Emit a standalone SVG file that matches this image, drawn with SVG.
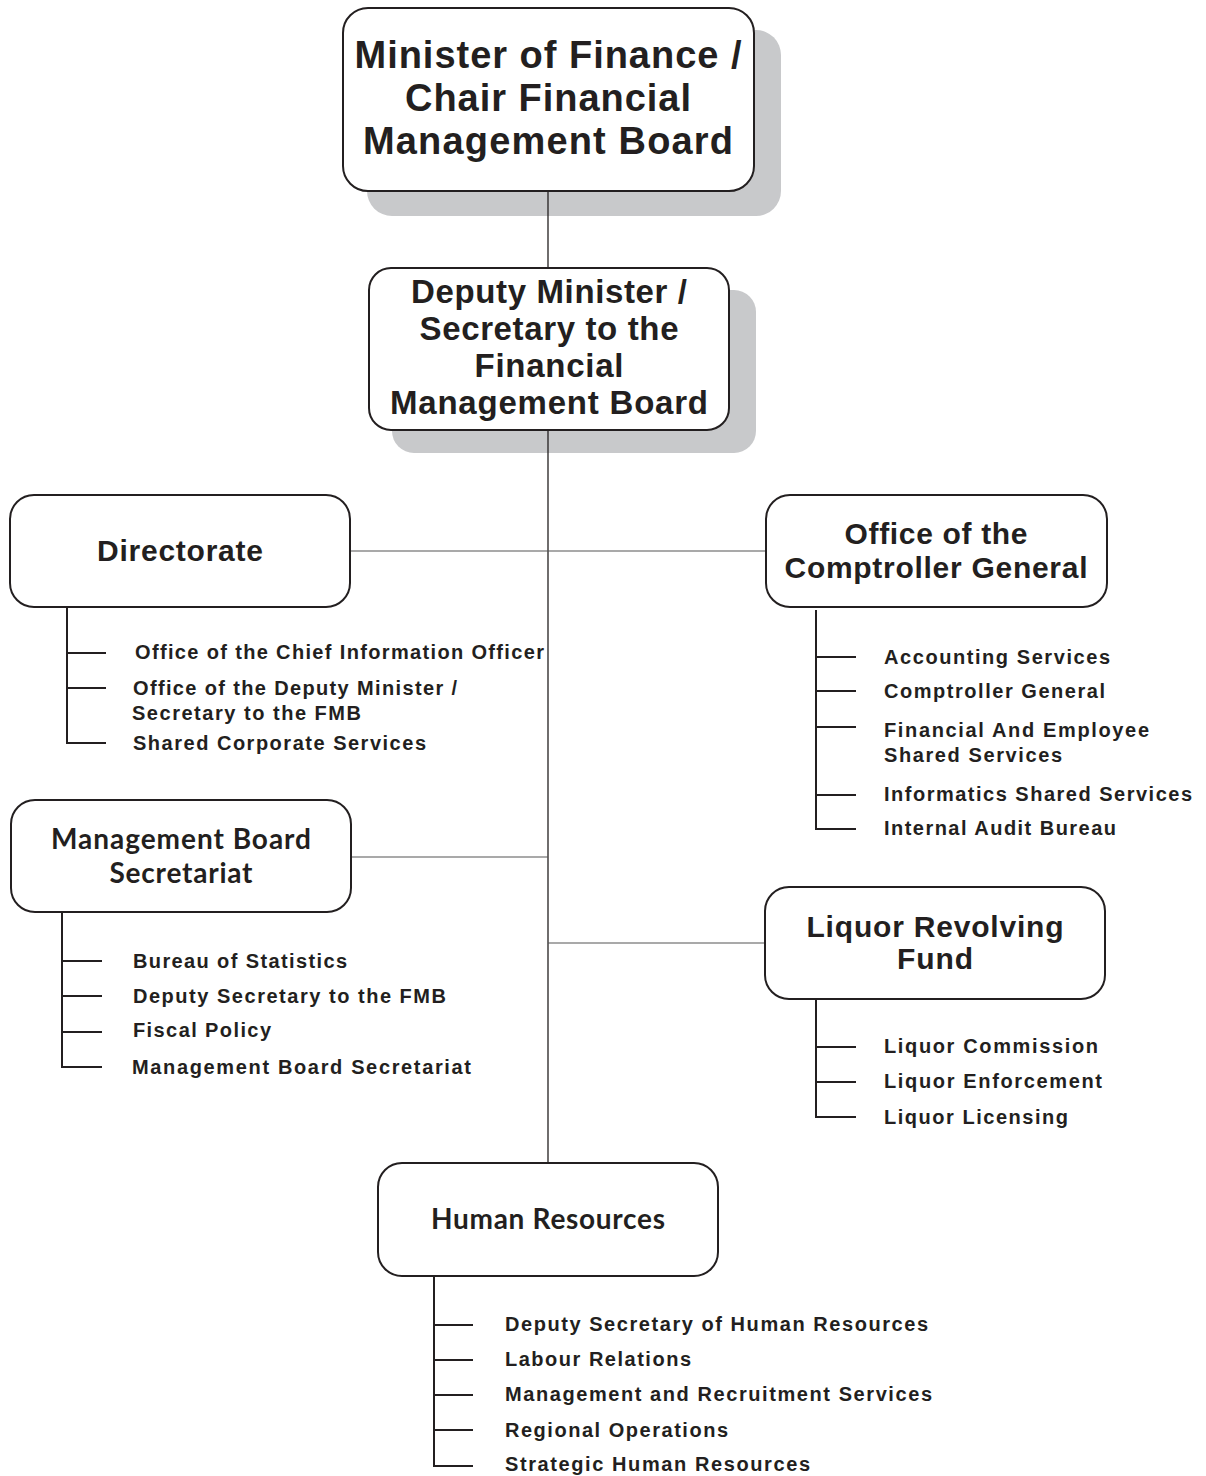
<svg xmlns="http://www.w3.org/2000/svg" width="1206" height="1476" viewBox="0 0 1206 1476">
<style>
.bg{fill:#ffffff}
.box{fill:#ffffff;stroke:#231f20;stroke-width:2}
.shadow{fill:#c8c9cb}
.conn{stroke:#231f20;stroke-width:1.3;fill:none}
.hconn{stroke:#555555;stroke-width:1.2;fill:none}
.tick{stroke:#231f20;stroke-width:2;fill:none}
.t1{font-family:"Liberation Sans",Arial,sans-serif;font-weight:bold;fill:#231f20;text-anchor:middle}
.cal{font-family:Lato,"Open Sans",sans-serif;font-weight:bold;fill:#231f20;text-anchor:middle}
.sub{font-family:"Liberation Sans",Arial,sans-serif;font-weight:bold;font-size:20px;fill:#231f20}
</style>
<rect class="bg" x="0" y="0" width="1206" height="1476"/>
<g id="minister">
<rect class="shadow" x="367" y="30" width="414" height="186" rx="25"/>
<rect class="box" x="343" y="8" width="411" height="183" rx="25"/>
<text class="t1" font-size="38" x="548" y="68" textLength="387">Minister of Finance /</text>
<text class="t1" font-size="38" x="548" y="111" textLength="286">Chair Financial</text>
<text class="t1" font-size="38" x="548" y="154" textLength="370">Management Board</text>
</g>
<g id="deputy">
<rect class="shadow" x="392" y="290" width="364" height="163" rx="22"/>
<rect class="box" x="369" y="268" width="360" height="162" rx="22"/>
<text class="t1" font-size="33" x="549" y="303" textLength="276">Deputy Minister /</text>
<text class="t1" font-size="33" x="549" y="340" textLength="259">Secretary to the</text>
<text class="t1" font-size="33" x="549" y="377" textLength="149">Financial</text>
<text class="t1" font-size="33" x="549" y="414" textLength="318">Management Board</text>
</g>
<g id="directorate">
<rect class="box" x="10" y="495" width="340" height="112" rx="24"/>
<text class="t1" font-size="30" x="180" y="561" textLength="166">Directorate</text>
<path class="tick" d="M67 607V743H106M67 653H106M67 688H106"/>
<text class="sub" x="135" y="659" textLength="409">Office of the Chief Information Officer</text>
<text class="sub" x="133" y="695" textLength="324">Office of the Deputy Minister /</text>
<text class="sub" x="132" y="720" textLength="229">Secretary to the FMB</text>
<text class="sub" x="133" y="750" textLength="293">Shared Corporate Services</text>
</g>
<g id="comptroller">
<rect class="box" x="766" y="495" width="341" height="112" rx="24"/>
<text class="t1" font-size="30" x="936" y="544" textLength="183">Office of the</text>
<text class="t1" font-size="30" x="936" y="578" textLength="303">Comptroller General</text>
<path class="tick" d="M816 610V829H856M816 657H856M816 691H856M816 727H856M816 795H856"/>
<text class="sub" x="884" y="664" textLength="226">Accounting Services</text>
<text class="sub" x="884" y="698" textLength="221">Comptroller General</text>
<text class="sub" x="884" y="737" textLength="265">Financial And Employee</text>
<text class="sub" x="884" y="762" textLength="178">Shared Services</text>
<text class="sub" x="884" y="801" textLength="308">Informatics Shared Services</text>
<text class="sub" x="884" y="835" textLength="232">Internal Audit Bureau</text>
</g>
<g id="mbs">
<rect class="box" x="11" y="800" width="340" height="112" rx="24"/>
<text class="cal" font-size="28" x="181" y="849" textLength="260">Management Board</text>
<text class="cal" font-size="28" x="181" y="883" textLength="143">Secretariat</text>
<path class="tick" d="M62 912V1067H102M62 961H102M62 996H102M62 1032H102"/>
<text class="sub" x="133" y="968" textLength="214">Bureau of Statistics</text>
<text class="sub" x="133" y="1003" textLength="313">Deputy Secretary to the FMB</text>
<text class="sub" x="133" y="1037" textLength="138">Fiscal Policy</text>
<text class="sub" x="132" y="1074" textLength="339">Management Board Secretariat</text>
</g>
<g id="liquor">
<rect class="box" x="765" y="887" width="340" height="112" rx="24"/>
<text class="t1" font-size="30" x="935" y="937" textLength="257">Liquor Revolving</text>
<text class="t1" font-size="30" x="935" y="969" textLength="76">Fund</text>
<path class="tick" d="M816 999V1117H856M816 1047H856M816 1082H856"/>
<text class="sub" x="884" y="1053" textLength="214">Liquor Commission</text>
<text class="sub" x="884" y="1088" textLength="218">Liquor Enforcement</text>
<text class="sub" x="884" y="1124" textLength="184">Liquor Licensing</text>
</g>
<g id="hr">
<rect class="box" x="378" y="1163" width="340" height="113" rx="24"/>
<text class="cal" font-size="28" x="548" y="1229" textLength="234">Human Resources</text>
<path class="tick" d="M434 1276V1466H473M434 1325H473M434 1360H473M434 1395H473M434 1430H473"/>
<text class="sub" x="505" y="1331" textLength="423">Deputy Secretary of Human Resources</text>
<text class="sub" x="505" y="1366" textLength="186">Labour Relations</text>
<text class="sub" x="505" y="1401" textLength="427">Management and Recruitment Services</text>
<text class="sub" x="505" y="1437" textLength="223">Regional Operations</text>
<text class="sub" x="505" y="1471" textLength="305">Strategic Human Resources</text>
</g>
<g id="connectors">
<line class="conn" x1="548" y1="192" x2="548" y2="267"/>
<line class="conn" x1="548" y1="431" x2="548" y2="1162"/>
<line class="hconn" x1="351" y1="551" x2="765" y2="551"/>
<line class="hconn" x1="352" y1="857" x2="548" y2="857"/>
<line class="hconn" x1="548" y1="943" x2="764" y2="943"/>
</g>
</svg>
